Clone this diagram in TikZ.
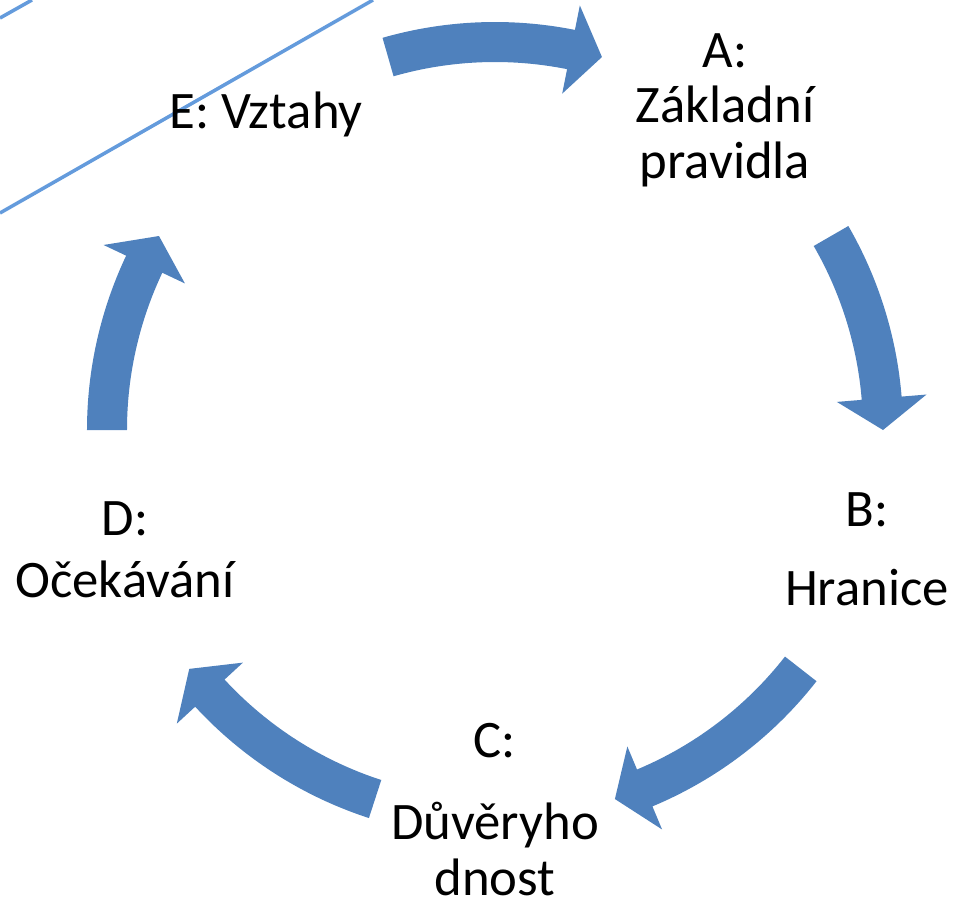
\documentclass[tikz,border=0pt]{standalone}
\usepackage{fontspec}
\setmainfont{Carlito}
\definecolor{arrowblue}{RGB}{79,129,189}
\definecolor{lineblue}{RGB}{100,155,220}
% one bent arrow of the cycle: #1 tail angle, #2 tip angle
\newcommand{\cyclearrow}[2]{%
  \fill[arrowblue] (#1:8.16) arc[start angle=#1, end angle={#2+4.7}, radius=8.16]
    -- ({#2+4.7}:8.66) -- (#2:7.76) -- ({#2+4.7}:6.86) -- ({#2+4.7}:7.36)
    arc[start angle={#2+4.7}, end angle=#1, radius=7.36] -- cycle;}

\begin{document}
\begin{tikzpicture}[cyclelabel/.style={align=center, anchor=base, inner sep=0pt,
    font=\fontsize{30}{31.5}\selectfont}]
        \useasboundingbox (-9.9,-9.66) rectangle (9.16,8.6);
        \draw[lineblue, line width=2pt] (-9.9,8.24) -- (-9.26,8.6);
        \draw[lineblue, line width=2pt] (-9.9,4.34) -- (-2.44,8.6);

        % base anchor sits on the last line
        \node[cyclelabel] (zakladni) at (4.6,5.04) {A:\\Základní\\pravidla};
        \node[cyclelabel] (hranice) at (7.44,-3.5) {B:\\[13pt]Hranice};
        \node[cyclelabel] (duvera) at (0,-9.3) {C:\\[15pt]Důvěryho\\dnost};
        \node[cyclelabel] (ocekavani) at (-7.4,-3.34) {D:\\[3.5pt]Očekávání};
        \node[cyclelabel] (vztahy) at (-4.58,6.04) {E: Vztahy};

        \cyclearrow{106}{74}
        \cyclearrow{30}{0}
        \cyclearrow{-38}{-72}
        \cyclearrow{-108}{-142}
        \cyclearrow{180}{150}
\end{tikzpicture}
\end{document}
